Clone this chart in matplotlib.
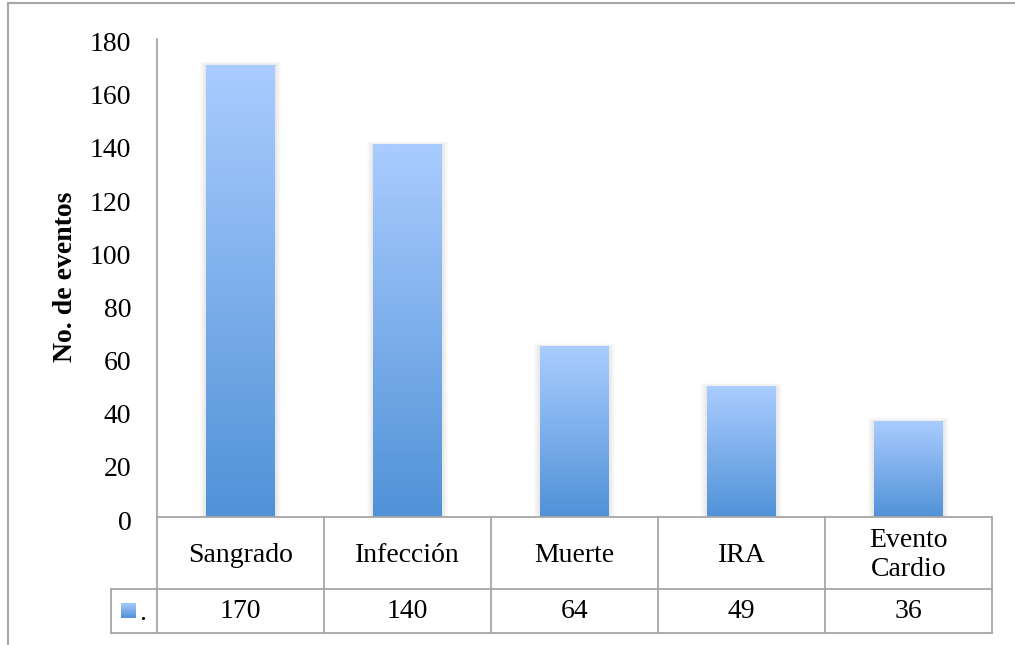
import numpy as np
import matplotlib
matplotlib.use("Agg")
import matplotlib.pyplot as plt
from matplotlib.colors import LinearSegmentedColormap
from matplotlib.patches import Rectangle
from matplotlib.lines import Line2D
import matplotlib.transforms as mtransforms

categories = ["Sangrado", "Infección", "Muerte", "IRA", "Evento\nCardio"]
values = [170, 140, 64, 49, 36]
yticks = [0, 20, 40, 60, 80, 100, 120, 140, 160, 180]
ylabel = "No. de eventos"
series_label = "."

W, H = 1015, 645
plt.rcParams['font.family'] = ['Liberation Serif', 'DejaVu Serif']
fig = plt.figure(figsize=(W / 100, H / 100), dpi=100)

ax_left, ax_right, ax_top, ax_bottom = 157, 992, 38.7, 517
ax = fig.add_axes([ax_left / W, 1 - ax_bottom / H, (ax_right - ax_left) / W, (ax_bottom - ax_top) / H])

grid_col = '#A6A6A6'
c_bottom = '#5092D7'
c_top = '#AACCFF'
cmap = LinearSegmentedColormap.from_list('g', [c_bottom, c_top])
fs = 20

x = np.arange(len(categories))
bar_w = 0.41
bars = ax.bar(x, values, width=bar_w, color='none', zorder=3)

px_x = 1.0 / ((ax_right - ax_left) / len(categories))
px_y = 180.0 / (ax_bottom - ax_top)
grad = np.linspace(0, 1, 256).reshape(-1, 1)
for b in bars:
    x0, y0 = b.get_xy()
    w, h = b.get_width(), b.get_height()
    for k in range(1, 7):
        ax.add_patch(Rectangle((x0 - k * px_x, y0), w + 2 * k * px_x, h + k * px_y * 0.6,
                               facecolor='black', edgecolor='none', alpha=0.014, zorder=2))
    ax.imshow(grad, extent=[x0, x0 + w, y0, y0 + h], origin='lower', cmap=cmap,
              aspect='auto', zorder=3, interpolation='bilinear')

ax.set_xlim(-0.5, len(categories) - 0.5)
ax.set_ylim(0, 180)
ax.set_yticks(yticks)
ax.set_yticklabels([str(t) for t in yticks], fontsize=fs)
ax.tick_params(axis='y', length=0, pad=18.5)
offset = mtransforms.ScaledTranslation(0, -3 / 100, fig.dpi_scale_trans)
for lbl in ax.get_yticklabels():
    lbl.set_transform(lbl.get_transform() + offset)
ax.set_xticks([])
for s in ['top', 'right', 'bottom']:
    ax.spines[s].set_visible(False)
ax.spines['left'].set_color(grid_col)
ax.spines['left'].set_linewidth(1.3)

fig.text(65 / W, 1 - 277 / H, ylabel, rotation=90, ha='center', va='center',
         fontsize=20, fontweight='bold')

# data table
trans = mtransforms.blended_transform_factory(ax.transData, ax.transAxes)
axh = ax_bottom - ax_top
def yf(py):
    return (ax_bottom - py) / axh

row1, row2, row3 = 517, 589, 633
xl = -0.5
xr = len(categories) - 0.5
leg_left = -0.5 - (157 - 111) * px_x
lkw = dict(color=grid_col, lw=1.3, clip_on=False, transform=trans, zorder=5)
ax.plot([xl, xr], [yf(row1), yf(row1)], **lkw)
ax.plot([leg_left, xr], [yf(row2), yf(row2)], **lkw)
ax.plot([leg_left, xr], [yf(row3), yf(row3)], **lkw)
ax.plot([xl, xl], [yf(row1), yf(row3)], **lkw)
ax.plot([leg_left, leg_left], [yf(row2), yf(row3)], **lkw)
for i in range(len(categories)):
    xb = i + 0.5
    ax.plot([xb, xb], [yf(row1), yf(row3)], **lkw)

for i, (c, v) in enumerate(zip(categories, values)):
    ax.text(i, yf((row1 + row2) / 2 + 2), c, transform=trans, ha='center', va='center',
            fontsize=fs, linespacing=1.25)
    ax.text(i, yf((row2 + row3) / 2 + 1), str(v), transform=trans, ha='center', va='center',
            fontsize=fs)

# legend key
sq = fig.add_axes([121 / W, 1 - 618 / H, 15 / W, 15 / H])
sq.imshow(grad, extent=[0, 1, 0, 1], origin='lower', cmap=cmap, aspect='auto')
sq.axis('off')
fig.text(143 / W, 1 - 620 / H, series_label, ha='center', va='baseline', fontsize=fs)

# outer border (cropped)
fig.add_artist(Line2D([8 / W, 1.0], [1 - 3 / H, 1 - 3 / H], transform=fig.transFigure,
                      color=grid_col, lw=1.5))
fig.add_artist(Line2D([8 / W, 8 / W], [1 - 3 / H, 0], transform=fig.transFigure,
                      color=grid_col, lw=1.5))

fig.savefig('out.png', dpi=100)
